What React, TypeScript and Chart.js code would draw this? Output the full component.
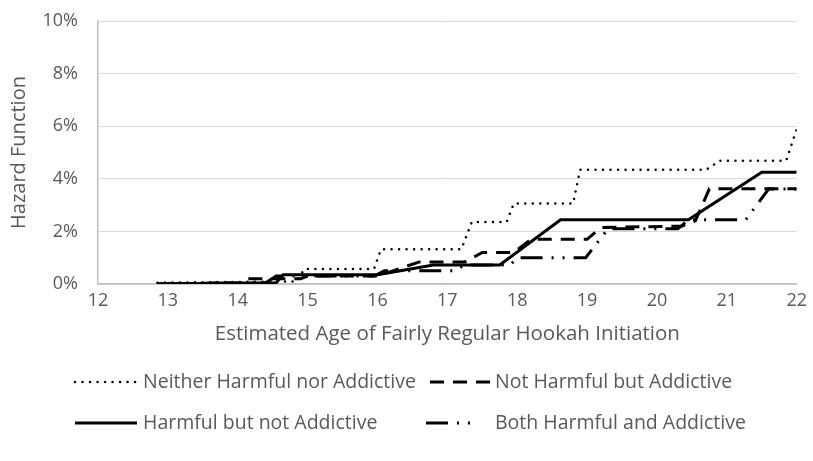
import React, { useEffect, useRef } from "react";
import { Chart, registerables } from "chart.js";

Chart.register(...registerables);

// ---- data ----
const xTicks = [12, 13, 14, 15, 16, 17, 18, 19, 20, 21, 22];
const yTicks = [0, 2, 4, 6, 8, 10];

const seriesNames = [
  "Neither Harmful nor Addictive",
  "Not Harmful but Addictive",
  "Harmful but not Addictive",
  "Both Harmful and Addictive",
];

const neitherAge = [12.85, 14.85, 14.95, 15.95, 16.05, 17.2, 17.35, 17.85, 17.95, 18.8, 18.9, 20.7, 20.9, 21.85, 22];
const neitherVal = [0.05, 0.1, 0.57, 0.57, 1.32, 1.32, 2.36, 2.36, 3.06, 3.06, 4.34, 4.34, 4.69, 4.69, 5.9];

const notHarmfulAge = [12.85, 14.05, 14.15, 14.9, 15.0, 16.0, 16.6, 17.25, 17.5, 17.95, 18.2, 19.0, 19.2, 20.35, 20.55, 20.75, 22];
const notHarmfulVal = [0, 0.05, 0.2, 0.2, 0.3, 0.3, 0.84, 0.84, 1.2, 1.2, 1.7, 1.7, 2.15, 2.2, 2.4, 3.62, 3.62];

const harmfulAge = [12.85, 14.55, 14.65, 16.0, 16.8, 17.75, 18.62, 20.45, 21.5, 22];
const harmfulVal = [0, 0.05, 0.35, 0.35, 0.72, 0.72, 2.44, 2.44, 4.25, 4.25];

const bothAge = [12.85, 14.4, 14.55, 15.95, 16.1, 17.1, 17.25, 17.9, 18.0, 18.98, 19.3, 20.3, 20.45, 21.27, 21.6, 22];
const bothVal = [0, 0.05, 0.3, 0.3, 0.5, 0.5, 0.72, 0.72, 1.0, 1.0, 2.1, 2.1, 2.44, 2.44, 3.62, 3.6];

const toPoints = (xs: number[], ys: number[]) => xs.map((x, i) => ({ x, y: ys[i] }));

const FONT = "'Open Sans', sans-serif";
const TEXT = "#595959";

const styles = [
  { width: 2.5, dash: [0.01, 7.5], cap: "round" as CanvasLineCap },
  { width: 3, dash: [14, 9], cap: "butt" as CanvasLineCap },
  { width: 3, dash: [] as number[], cap: "butt" as CanvasLineCap },
  { width: 3, dash: [22, 9, 2, 9, 2, 9], cap: "butt" as CanvasLineCap },
];

const legendPlugin = {
  id: "gridLegend",
  afterDraw(chart: any) {
    const ctx: CanvasRenderingContext2D = chart.ctx;
    const slots = [
      { x: 75, y: 382, len: 61, tx: 143 },
      { x: 430, y: 382, len: 60, tx: 495 },
      { x: 75, y: 423, len: 62, tx: 143 },
      { x: 426, y: 423, len: 51, tx: 495 },
    ];
    ctx.save();
    slots.forEach((s, i) => {
      const st = styles[i];
      ctx.beginPath();
      ctx.strokeStyle = "#000";
      ctx.lineWidth = st.width;
      ctx.lineCap = st.cap;
      ctx.setLineDash(st.dash);
      ctx.moveTo(s.x, s.y);
      ctx.lineTo(s.x + s.len, s.y);
      ctx.stroke();
      ctx.setLineDash([]);
      ctx.fillStyle = TEXT;
      ctx.font = `19.5px ${FONT}`;
      ctx.textBaseline = "middle";
      ctx.textAlign = "left";
      ctx.fillText(seriesNames[i], s.tx, s.y);
    });
    ctx.restore();
  },
};

export default function App() {
  const ref = useRef<HTMLCanvasElement | null>(null);

  useEffect(() => {
    if (!ref.current) return;
    const series = [
      toPoints(neitherAge, neitherVal),
      toPoints(notHarmfulAge, notHarmfulVal),
      toPoints(harmfulAge, harmfulVal),
      toPoints(bothAge, bothVal),
    ];
    const chart = new Chart(ref.current, {
      type: "line",
      data: {
        datasets: series.map((d, i) => ({
          label: seriesNames[i],
          data: d,
          borderColor: "#000",
          backgroundColor: "#000",
          borderWidth: styles[i].width,
          borderDash: styles[i].dash,
          borderCapStyle: styles[i].cap,
          pointRadius: 0,
          tension: 0,
          fill: false,
        })),
      },
      options: {
        animation: false,
        responsive: true,
        maintainAspectRatio: false,
        layout: { padding: { left: 0, right: 13, top: 21, bottom: 115 } },
        plugins: { legend: { display: false }, tooltip: { enabled: false } },
        scales: {
          x: {
            type: "linear",
            min: 12,
            max: 22,
            afterBuildTicks: (scale: any) => {
              scale.ticks = xTicks.map((v) => ({ value: v }));
            },
            afterFit: (scale: any) => {
              scale.height = 62;
            },
            grid: { display: false, drawTicks: false },
            border: { display: true, color: "#bfbfbf", width: 1.5 },
            ticks: { color: TEXT, font: { family: FONT, size: 18 }, padding: 6, maxRotation: 0 },
            title: {
              display: true,
              text: "Estimated Age of Fairly Regular Hookah Initiation",
              color: TEXT,
              font: { family: FONT, size: 20.5 },
              padding: { top: 0, bottom: 0 },
            },
          },
          y: {
            type: "linear",
            min: 0,
            max: 10,
            afterBuildTicks: (scale: any) => {
              scale.ticks = yTicks.map((v) => ({ value: v }));
            },
            afterFit: (scale: any) => {
              scale.width = 98;
              scale.paddingTop = 8;
              scale.paddingBottom = 8;
            },
            grid: { color: "#d9d9d9", lineWidth: 1, drawTicks: false },
            border: { display: true, color: "#bfbfbf", width: 1.5 },
            ticks: {
              color: TEXT,
              font: { family: FONT, size: 18 },
              padding: 20,
              callback: (v: any) => `${v}%`,
            },
            title: {
              display: true,
              text: "Hazard Function",
              color: TEXT,
              font: { family: FONT, size: 20 },
              padding: { top: 7, bottom: 0 },
            },
          },
        },
      },
      plugins: [legendPlugin],
    });
    return () => chart.destroy();
  }, []);

  return (
    <div style={{ position: "fixed", left: 0, top: 0, width: 813, height: 461, background: "#fff" }}>
      <canvas ref={ref} />
    </div>
  );
}
